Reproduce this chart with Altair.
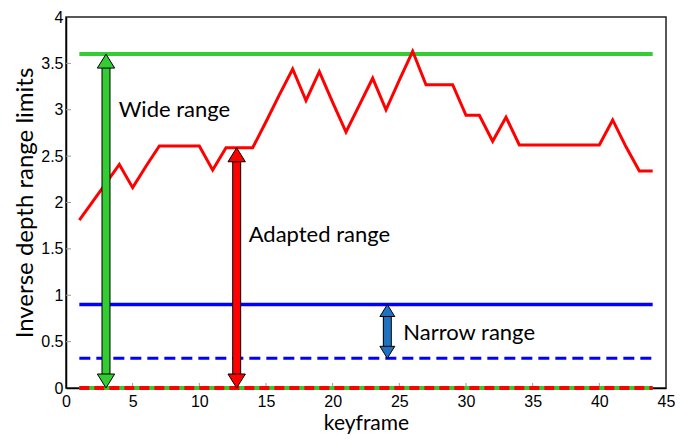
import altair as alt
import pandas as pd

# ---- data ----
keyframes = list(range(1, 45))
adapted_upper = [1.81, 2.01, 2.21, 2.41, 2.16, 2.39, 2.61, 2.61, 2.61, 2.61,
                 2.35, 2.59, 2.59, 2.59, 2.87, 3.16, 3.44, 3.10, 3.41, 3.08,
                 2.76, 3.05, 3.34, 3.00, 3.32, 3.63, 3.27, 3.27, 3.27, 2.94,
                 2.94, 2.66, 2.92, 2.62, 2.62, 2.62, 2.62, 2.62, 2.62, 2.62,
                 2.89, 2.60, 2.34, 2.34]

line_span = [1, 44]
wide_upper = 3.6
narrow_upper = 0.9
narrow_lower = 0.32
common_lower = 0.0

arrow_x = [3.0, 12.8, 24.1]
arrow_lo = [0.0, 0.0, 0.32]
arrow_hi = [3.6, 2.59, 0.9]
arrow_fill = ["#33cc33", "#ff0000", "#1f72c0"]
arrow_head_px = [14, 14, 12]

label_text = ["Wide range", "Adapted range", "Narrow range"]
label_x = [3.95, 13.7, 25.3]
label_y = [3.0, 1.65, 0.59]

x_ticks = [5, 10, 15, 20, 25, 30, 35, 40]
y_ticks = [0.5, 1, 1.5, 2, 2.5, 3, 3.5]

# ---- layout ----
W, H = 600, 371
px_per_unit = H / 4.0

xs = alt.Scale(domain=[0, 45], nice=False, zero=False)
ys = alt.Scale(domain=[0, 4], nice=False)
x_axis = alt.Axis(values=list(range(0, 50, 5)), ticks=False, labelPadding=5,
                  title="keyframe", titlePadding=3, labelFlush=False, grid=False,
                  titleFontSize=21)
y_axis = alt.Axis(values=[0, 0.5, 1, 1.5, 2, 2.5, 3, 3.5, 4], ticks=False,
                  labelPadding=3, title="Inverse depth range limits",
                  titlePadding=3, labelFlush=False, grid=False,
                  labelExpr="datum.value", titleFontSize=24)


def X(field):
    return alt.X(field, type="quantitative", scale=xs, axis=x_axis)


def Y(field):
    return alt.Y(field, type="quantitative", scale=ys, axis=y_axis)


red_df = pd.DataFrame({"k": keyframes, "v": adapted_upper})


def hline(level):
    return pd.DataFrame({"k": line_span, "v": [level, level]})


base_lines = []
base_lines.append(alt.Chart(hline(common_lower)).mark_line(color="#33cc33", strokeWidth=4, clip=False)
                  .encode(x=X("k"), y=Y("v")))
base_lines.append(alt.Chart(hline(common_lower)).mark_line(color="#ff0000", strokeWidth=4,
                                                           strokeDash=[10, 5], clip=False)
                  .encode(x=X("k"), y=Y("v")))
base_lines.append(alt.Chart(hline(narrow_lower)).mark_line(color="#0000ff", strokeWidth=3,
                                                           strokeDash=[11, 6])
                  .encode(x=X("k"), y=Y("v")))
base_lines.append(alt.Chart(hline(narrow_upper)).mark_line(color="#0000ff", strokeWidth=3.5)
                  .encode(x=X("k"), y=Y("v")))
base_lines.append(alt.Chart(hline(wide_upper)).mark_line(color="#33cc33", strokeWidth=4)
                  .encode(x=X("k"), y=Y("v")))
base_lines.append(alt.Chart(red_df).mark_line(color="#ff0000", strokeWidth=3)
                  .encode(x=X("k"), y=Y("v")))

# inward tick marks
xt = alt.Chart(pd.DataFrame({"t": x_ticks})).mark_rule(color="#999999", strokeWidth=1).encode(
    x=X("t"), y=alt.value(H), y2=alt.value(H - 5))
yt = alt.Chart(pd.DataFrame({"t": y_ticks})).mark_rule(color="#999999", strokeWidth=1).encode(
    y=Y("t"), x=alt.value(0), x2=alt.value(5))

# arrows
arr = pd.DataFrame({"k": arrow_x, "lo": arrow_lo, "hi": arrow_hi,
                    "fill": arrow_fill, "hp": arrow_head_px})
arr["lo_s"] = arr["lo"] + arr["hp"] / px_per_unit
arr["hi_s"] = arr["hi"] - arr["hp"] / px_per_unit
arr["size"] = (2 * arr["hp"]) ** 2

shaft_out = alt.Chart(arr).mark_rule(color="black", strokeWidth=9, strokeCap="butt").encode(
    x=X("k"), y=Y("lo_s"), y2="hi_s")
shaft_in = alt.Chart(arr).mark_rule(strokeWidth=7, strokeCap="butt").encode(
    x=X("k"), y=Y("lo_s"), y2="hi_s", color=alt.Color("fill:N", scale=None))
head_up = alt.Chart(arr).mark_point(shape="M0,0L-0.62,1L0.62,1Z", filled=True, opacity=1,
                                    stroke="black", strokeWidth=1).encode(
    x=X("k"), y=Y("hi"), fill=alt.Fill("fill:N", scale=None), size=alt.Size("size:Q", scale=None))
head_dn = alt.Chart(arr).mark_point(shape="M0,0L-0.62,-1L0.62,-1Z", filled=True, opacity=1,
                                    stroke="black", strokeWidth=1).encode(
    x=X("k"), y=Y("lo"), fill=alt.Fill("fill:N", scale=None), size=alt.Size("size:Q", scale=None))

labels = alt.Chart(pd.DataFrame({"t": label_text, "k": label_x, "v": label_y})).mark_text(
    align="left", baseline="middle", font="Lato", fontSize=22, color="black").encode(
    x=X("k"), y=Y("v"), text="t:N")

chart = alt.layer(xt, yt, *base_lines, shaft_out, shaft_in, head_up, head_dn, labels).properties(
    width=W, height=H,
    autosize=alt.AutoSizeParams(type="none"),
    padding={"left": 58, "top": 9, "right": 9, "bottom": 49},
).configure_view(stroke="#222222", strokeWidth=1.5).configure_axis(
    domainColor="black", domainWidth=1.5,
    labelFont="Liberation Sans", labelFontSize=16, labelColor="black",
    titleFont="Lato", titleFontWeight="normal", titleColor="black",
)

chart.save("out.html", embed_options={"renderer": "svg", "actions": False})
